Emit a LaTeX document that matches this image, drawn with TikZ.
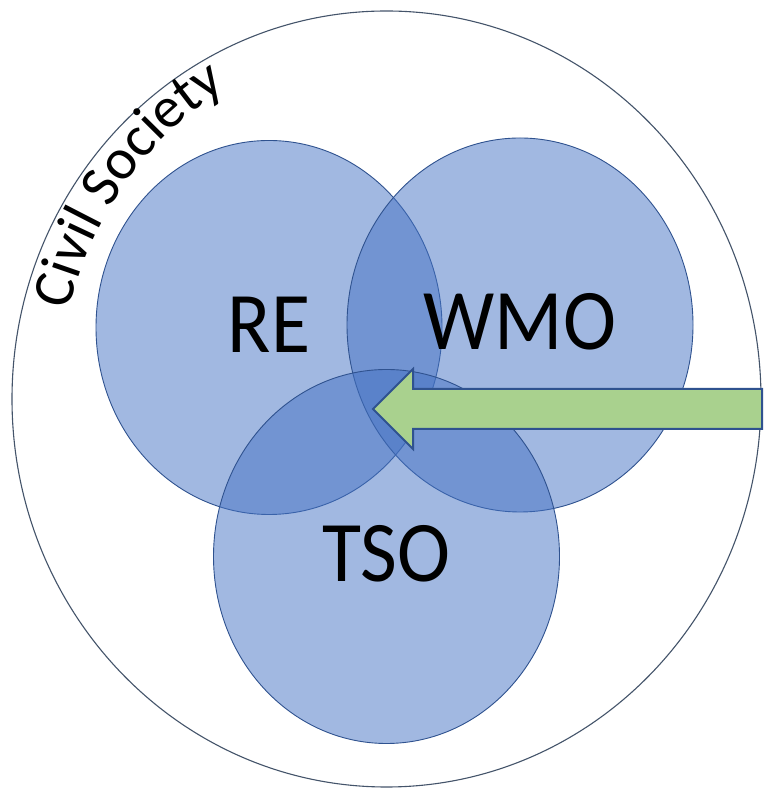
\documentclass[tikz,border=0pt]{standalone}
\usepackage{fontspec}
\setmainfont{Carlito}
\usetikzlibrary{shapes.geometric,decorations.text}
\definecolor{setfill}{HTML}{4472C4}
\definecolor{setline}{HTML}{2F528F}
\definecolor{outerline}{HTML}{44546A}
\definecolor{arrowfill}{HTML}{A9D18E}
\tikzset{
  setcircle/.style={ellipse, draw=setline, line width=0.9pt, fill=setfill, fill opacity=0.5,
    minimum width=346pt, minimum height=374pt, inner sep=0pt},
  lbl/.style={font=\fontsize{80}{80}\selectfont, text=black, inner sep=0pt, yscale=1.08, transform shape},
}
\begin{document}
\begin{tikzpicture}[x=1pt,y=1pt]
\useasboundingbox (0,0) rectangle (763,789);
\fill[white] (0,0) rectangle (763,789);
% outer civil society circle
\node[ellipse, draw=outerline, line width=1.1pt, minimum width=749pt, minimum height=776pt, inner sep=0pt] (civ) at (386.5,390) {};
\path[decorate, decoration={text along path, text align=center,
  text format delimiters={|}{|},
  text={|\fontsize{58}{58}\selectfont|Civil Society}}]
  (386.5,390) ++(176:328 and 356) arc[start angle=176, end angle=108, x radius=328, y radius=356];
% three sets
\node[setcircle] (re) at (269,461.5) {};
\node[setcircle] (wmo) at (520,464) {};
\node[setcircle] (tso) at (386.5,232.5) {};
\node[lbl] at ([yshift=3pt]re.center) {RE};
\node[lbl] at ([yshift=3pt]wmo.center) {WMO};
\node[lbl] at ([yshift=3pt]tso.center) {TSO};
% green arrow
\draw[fill=arrowfill, draw=setline, line width=2pt, line join=miter]
  (373,380) -- (413,420) -- (413,400) -- (762,400) -- (762,360) -- (413,360) -- (413,340) -- cycle;
\end{tikzpicture}
\end{document}
